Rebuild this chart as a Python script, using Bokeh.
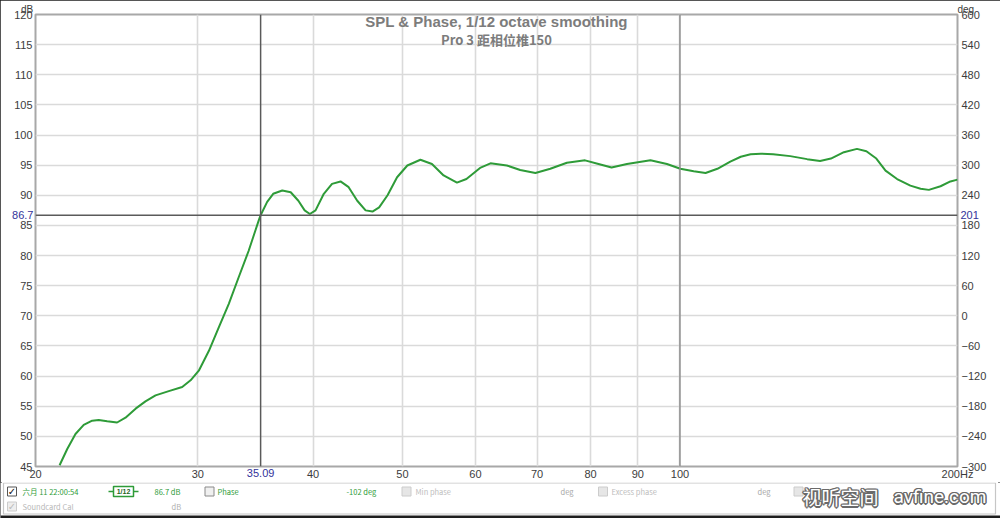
from bokeh.plotting import figure
from bokeh.models import Range1d, LinearAxis, FixedTicker, Span, Label, PrintfTickFormatter
from bokeh.layouts import column
from bokeh.embed import file_html
from bokeh.resources import INLINE
from bokeh.core.properties import value

# ---------------- data ----------------
freq_hz = [21.24, 21.65, 22.10, 22.56, 23.04, 23.42, 23.92, 24.52, 25.04, 25.68,
           26.32, 26.99, 27.90, 28.85, 29.46, 30.07, 30.84, 31.61, 32.41, 33.22,
           34.06, 34.92, 35.09, 35.67, 36.21, 37.04, 37.83, 38.56, 39.17, 39.68,
           40.25, 41.09, 41.94, 42.84, 43.72, 44.67, 45.61, 46.40, 47.18, 48.18,
           49.34, 50.62, 52.30, 53.83, 55.42, 57.30, 58.67, 60.79, 62.30, 64.90,
           67.10, 69.70, 72.34, 75.40, 78.90, 81.60, 84.30, 87.60, 92.90, 96.80,
           100.1, 103.5, 106.6, 109.8, 113.4, 116.4, 119.3, 122.4, 126.2, 131.7,
           137.4, 141.9, 145.8, 150.6, 155.6, 159.3, 163.3, 167.1, 172.0, 177.8,
           182.4, 186.2, 191.7, 196.5, 200.0]
spl_db = [45.2, 47.9, 50.4, 51.9, 52.6, 52.7, 52.5, 52.3, 53.1, 54.6,
          55.8, 56.8, 57.5, 58.2, 59.3, 60.9, 64.2, 68.1, 72.0, 76.4,
          80.8, 85.8, 86.7, 88.9, 90.25, 90.8, 90.5, 89.1, 87.5, 86.9,
          87.5, 90.25, 91.9, 92.3, 91.35, 89.1, 87.5, 87.3, 88.0, 90.0,
          93.0, 94.95, 95.9, 95.2, 93.3, 92.1, 92.7, 94.6, 95.3, 94.95,
          94.2, 93.7, 94.4, 95.4, 95.8, 95.2, 94.6, 95.2, 95.8, 95.2,
          94.4, 94.0, 93.7, 94.4, 95.6, 96.4, 96.8, 96.9, 96.8, 96.5,
          96.0, 95.7, 96.1, 97.15, 97.7, 97.3, 96.1, 94.1, 92.7, 91.6,
          91.1, 90.9, 91.5, 92.3, 92.6]

db_ticks = list(range(45, 121, 5))
deg_ticks = list(range(-300, 601, 60))
freq_ticks = [20, 30, 40, 50, 60, 70, 80, 90, 100, 200]
decade_line = [100]
cursor_freq = 35.09
cursor_db = 86.7
cursor_deg = 201
cursor_phase = -102
unit_left, unit_right = "dB", "deg"
title_lines = ["SPL & Phase, 1/12 octave smoothing", "Pro 3 距相位椎150"]
trace_name = "六月 11 22:00:54"

GREEN = "#2e9b38"
GRID = "#dadada"
FONT = "Liberation Sans"
CJK = "Noto Sans CJK SC"
NB = "\u00a0"

# ---------------- main chart ----------------
p = figure(frame_width=922, frame_height=452, x_axis_type="log",
           x_range=Range1d(freq_ticks[0], freq_ticks[-1]),
           y_range=Range1d(db_ticks[0], db_ticks[-1]),
           output_backend="svg", toolbar_location=None,
           min_border_left=35, min_border_right=43,
           min_border_top=14, min_border_bottom=15)
p.frame_align = False
p.background_fill_color = "white"
p.border_fill_color = "white"
p.outline_line_color = "#a8a8a8"
p.outline_line_width = 2

xaxis_main = p.below[0]
yaxis_main = p.left[0]

p.extra_y_ranges = {"deg": Range1d(deg_ticks[0], deg_ticks[-1])}
raxis = LinearAxis(y_range_name="deg", ticker=FixedTicker(ticks=deg_ticks))
p.add_layout(raxis, "right")

xaxis_main.ticker = FixedTicker(ticks=freq_ticks)
xaxis_main.formatter = PrintfTickFormatter(format="%d")
xaxis_main.major_label_overrides = {freq_ticks[-1]: "%dHz" % freq_ticks[-1]}
yaxis_main.ticker = FixedTicker(ticks=db_ticks)

# unit labels above the frame
taxis = LinearAxis(ticker=FixedTicker(ticks=[freq_ticks[0], freq_ticks[-1]]),
                   major_label_overrides={freq_ticks[0]: unit_left + NB * 6,
                                          freq_ticks[-1]: NB * 6 + unit_right})
p.add_layout(taxis, "above")

# cursor read-outs on extra axes (stacked, pulled back with negative standoff)
cx_axis = LinearAxis(ticker=FixedTicker(ticks=[cursor_freq]),
                     major_label_overrides={cursor_freq: "%.2f" % cursor_freq})
cy_axis = LinearAxis(ticker=FixedTicker(ticks=[cursor_db]),
                     major_label_overrides={cursor_db: "%.1f" % cursor_db})
cd_axis = LinearAxis(y_range_name="deg", ticker=FixedTicker(ticks=[cursor_deg]),
                     major_label_overrides={cursor_deg: "%d" % cursor_deg})
p.add_layout(cx_axis, "below")
p.add_layout(cy_axis, "left")
p.add_layout(cd_axis, "right")

main_axes = [xaxis_main, yaxis_main, raxis, taxis]
cursor_axes = [cx_axis, cy_axis, cd_axis]
for ax in main_axes + cursor_axes:
    ax.axis_line_color = None
    ax.major_tick_line_color = None
    ax.minor_tick_line_color = None
    ax.major_tick_out = 0
    ax.major_tick_in = 0
    ax.minor_tick_out = 0
    ax.minor_tick_in = 0
    ax.major_label_text_font_size = "11px"
    ax.major_label_text_font = FONT
    ax.major_label_text_color = "#3c3c3c"
taxis.major_label_text_font_size = "10px"
taxis.major_label_standoff = 0
xaxis_main.major_label_standoff = 1
yaxis_main.major_label_standoff = 3
raxis.major_label_standoff = 4
raxis.major_label_text_align = "left"

cx_axis.major_label_standoff = -14
cy_axis.major_label_standoff = -22
cd_axis.major_label_standoff = -29
cd_axis.major_label_text_align = "left"
for ax in cursor_axes:
    ax.major_label_text_color = "#33339a"

p.xgrid.ticker = FixedTicker(ticks=freq_ticks)
p.ygrid.ticker = FixedTicker(ticks=db_ticks)
p.grid.grid_line_color = GRID
p.grid.grid_line_width = 1.6
p.xgrid.minor_grid_line_color = None

for f in decade_line:
    p.add_layout(Span(location=f, dimension="height", line_color="#8e8e8e", line_width=1.5))

p.line(freq_hz, spl_db, line_color=GREEN, line_width=2)

# cursor
p.add_layout(Span(location=cursor_freq, dimension="height", line_color="#5a5a5a", line_width=1.5))
p.add_layout(Span(location=cursor_db, dimension="width", line_color="#5a5a5a", line_width=1.5))

# titles
xc = (freq_ticks[0] * freq_ticks[-1]) ** 0.5
p.add_layout(Label(x=xc, y=db_ticks[-1], y_offset=-7, text=title_lines[0],
                   text_align="center", text_baseline="middle", text_font=FONT,
                   text_font_size="15px", text_font_style="bold", text_color="#7c7c7c"))
p.add_layout(Label(x=xc, y=db_ticks[-1], y_offset=-25, text=title_lines[1],
                   text_align="center", text_baseline="middle", text_font=CJK,
                   text_font_size="13px", text_font_style="bold", text_color="#7c7c7c"))

# ---------------- legend panel ----------------
q = figure(width=1000, height=37, x_range=Range1d(0, 1000), y_range=Range1d(518, 481),
           output_backend="svg", toolbar_location=None,
           x_axis_location=None, y_axis_location=None, min_border=0,
           min_border_left=0, min_border_right=0, min_border_top=0, min_border_bottom=0)
q.frame_align = False
q.grid.visible = False
q.outline_line_color = None
q.background_fill_color = "white"
q.border_fill_color = "white"

q.quad(left=[3], right=[995], top=[481.5], bottom=[512.5], fill_color=None,
       line_color="#c6c6c6", line_width=1.2)
q.quad(left=[0], right=[1000], top=[514], bottom=[518], fill_color="#1e1e1e",
       line_color=None)

cb_x = [11.5, 209, 406, 602.5, 798, 11.5]
cb_y = [490, 490, 490, 490, 490, 505]
cb_line = ["#555555", "#8a8a8a", "#cccccc", "#cccccc", "#cccccc", "#cccccc"]
cb_fill = ["#ffffff", "#f0f0f0", "#e6e6e6", "#e6e6e6", "#e6e6e6", "#eeeeee"]
q.rect(x=cb_x, y=cb_y, width=9, height=9, fill_color=cb_fill, line_color=cb_line)
q.text(x=[cb_x[0], cb_x[5]], y=[cb_y[0], cb_y[5]], text=["✓", "✓"],
       text_color=["#111111", "#bbbbbb"], text_font=value("DejaVu Sans"),
       text_font_size="10px", text_align="center", text_baseline="middle")

leg_text = [trace_name, "%.1f dB" % cursor_db, "Phase", "%d deg" % cursor_phase,
            "Min phase", "deg", "Excess phase", "deg", "Soundcard Cal", "dB"]
leg_x = [22, 154, 217, 346, 415, 560, 611, 757, 22, 171]
leg_y = [490, 490, 490, 490, 490, 490, 490, 490, 505, 505]
leg_c = [GREEN, GREEN, GREEN, GREEN, "#bdbdbd", "#a8a8a8", "#bdbdbd", "#a8a8a8",
         "#b8b8b8", "#b0b0b0"]
q.text(x=leg_x, y=leg_y, text=leg_text, text_color=leg_c, text_font=value(CJK),
       text_font_size="7.5px", text_align="left", text_baseline="middle")

# smoothing icon
q.segment(x0=[108, 133], y0=[490, 490], x1=[113, 138], y1=[490, 490],
          line_color=GREEN, line_width=1.5)
q.rect(x=[123], y=[490], width=20, height=10, fill_color="white",
       line_color=GREEN, line_width=1.5)
q.text(x=[123], y=[490], text=["1/12"], text_color="#226622",
       text_font=value(FONT), text_font_size="7px", text_font_style="bold",
       text_align="center", text_baseline="middle")

# watermark
wm_text = ["视听空间", "avfine.com"]
wm_x = [802, 893]
wm_y = [495, 495]
wm_font = [CJK, "Roboto"]
wm_size = ["19px", "19px"]
for dx, dy in [(-1, -1), (1, -1), (-1, 1), (1, 1), (0, -1.5), (0, 1.5), (-1.5, 0), (1.5, 0)]:
    for i in range(2):
        q.text(x=[wm_x[i]], y=[wm_y[i]], text=[wm_text[i]], x_offset=dx, y_offset=dy,
               text_color="#6a6a6a", text_font=value(wm_font[i]), text_font_size=wm_size[i],
               text_align="left", text_baseline="middle")
for i in range(2):
    q.text(x=[wm_x[i]], y=[wm_y[i]], text=[wm_text[i]], text_color="white",
           text_font=value(wm_font[i]), text_font_size=wm_size[i],
           text_align="left", text_baseline="middle")

layout = column(p, q, spacing=0)
layout.styles = {"outline": "2px solid #1e1e1e", "outline-offset": "-2px"}
open("out.html", "w").write(file_html(layout, INLINE))
